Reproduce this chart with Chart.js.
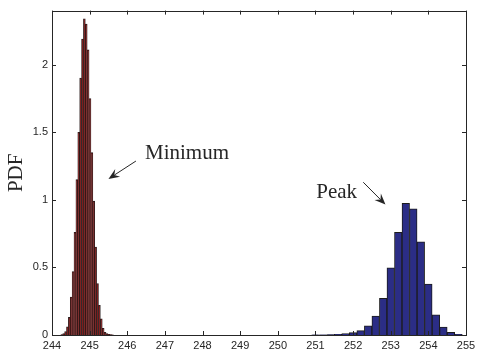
<!DOCTYPE html>
<html>
<head>
<meta charset="utf-8">
<script src="https://cdn.jsdelivr.net/npm/chart.js@4/dist/chart.umd.min.js"></script>
<style>
  html, body { margin: 0; padding: 0; background: #ffffff; }
  #wrap { width: 480px; height: 358px; }
</style>
</head>
<body>
<div id="wrap"><canvas id="pdfChart" width="480" height="358"></canvas></div>
<script>
// Histogram of the minimum value (bin width 0.05)
const minBinCenters = [244.26, 244.31, 244.36, 244.41, 244.46, 244.51, 244.56, 244.61, 244.66, 244.71,
                       244.76, 244.81, 244.86, 244.91, 244.96, 245.01, 245.06, 245.11, 245.16, 245.21,
                       245.26, 245.31, 245.36, 245.41, 245.46, 245.51, 245.56, 245.61];
const minDensity    = [0.004, 0.01, 0.025, 0.06, 0.13, 0.28, 0.47, 0.76, 1.15, 1.50,
                       1.90, 2.19, 2.34, 2.30, 2.11, 1.75, 1.35, 0.99, 0.65, 0.38,
                       0.22, 0.12, 0.05, 0.02, 0.01, 0.005, 0.003, 0.002];

// Histogram of the peak value (bin width 0.2)
const peakBinCenters = [251.0, 251.2, 251.4, 251.6, 251.8, 252.0, 252.2, 252.4, 252.6, 252.8,
                        253.0, 253.2, 253.4, 253.6, 253.8, 254.0, 254.2, 254.4, 254.6, 254.8];
const peakDensity    = [0.001, 0.002, 0.003, 0.005, 0.01, 0.017, 0.032, 0.068, 0.14, 0.271,
                        0.497, 0.759, 0.975, 0.933, 0.69, 0.376, 0.15, 0.058, 0.02, 0.005];

// Axis ranges and tick steps
const xRange = [244, 255];
const xStep = 1;
const yRange = [0, 2.4];
const yStep = 0.5;

// Text callouts with arrows, in data coordinates
const noteLabels = ['Minimum', 'Peak'];
const noteTextX  = [246.47, 251.02];
const noteTextY  = [1.30, 1.015];
const arrowFromX = [246.23, 252.27];
const arrowFromY = [1.287, 1.13];
const arrowToX   = [245.50, 252.86];
const arrowToY   = [1.155, 0.965];

const toPoints = (xs, ys) => xs.map((x, i) => ({ x: x, y: ys[i] }));

const TICK_FONT = { family: '"Liberation Sans", Arial, sans-serif', size: 11 };
const SERIF = '"Liberation Serif", "Times New Roman", serif';
const INK = '#262626';

// Box frame with inward tick marks on all four sides, plus callouts
const boxAndNotes = {
  id: 'boxAndNotes',
  afterDraw(chart) {
    const ctx = chart.ctx;
    const a = chart.chartArea;
    const xs = chart.scales.x;
    const ys = chart.scales.y;
    const tl = 4;
    ctx.save();
    ctx.strokeStyle = INK;
    ctx.lineWidth = 1;
    ctx.beginPath();
    xs.ticks.forEach(t => {
      const px = Math.round(xs.getPixelForValue(t.value)) + 0.5;
      ctx.moveTo(px, a.bottom); ctx.lineTo(px, a.bottom - tl);
      ctx.moveTo(px, a.top); ctx.lineTo(px, a.top + tl);
    });
    ys.ticks.forEach(t => {
      const py = Math.round(ys.getPixelForValue(t.value)) + 0.5;
      ctx.moveTo(a.left, py); ctx.lineTo(a.left + tl, py);
      ctx.moveTo(a.right, py); ctx.lineTo(a.right - tl, py);
    });
    ctx.stroke();
    ctx.strokeRect(Math.round(a.left) + 0.5, Math.round(a.top) + 0.5,
                   Math.round(a.right - a.left), Math.round(a.bottom - a.top));

    // callouts
    ctx.fillStyle = INK;
    ctx.font = '21px ' + SERIF;
    ctx.textAlign = 'left';
    ctx.textBaseline = 'alphabetic';
    noteLabels.forEach((label, i) => {
      ctx.fillText(label, xs.getPixelForValue(noteTextX[i]), ys.getPixelForValue(noteTextY[i]));
      const x0 = xs.getPixelForValue(arrowFromX[i]), y0 = ys.getPixelForValue(arrowFromY[i]);
      const x1 = xs.getPixelForValue(arrowToX[i]),   y1 = ys.getPixelForValue(arrowToY[i]);
      const ang = Math.atan2(y1 - y0, x1 - x0);
      const len = 11, half = 4.5, notch = 7;
      ctx.strokeStyle = INK;
      ctx.lineWidth = 1;
      ctx.beginPath();
      ctx.moveTo(x0, y0);
      ctx.lineTo(x1 - Math.cos(ang) * notch, y1 - Math.sin(ang) * notch);
      ctx.stroke();
      const bx = x1 - Math.cos(ang) * len, by = y1 - Math.sin(ang) * len;
      const nx = -Math.sin(ang), ny = Math.cos(ang);
      ctx.beginPath();
      ctx.moveTo(x1, y1);
      ctx.lineTo(bx + nx * half, by + ny * half);
      ctx.lineTo(x1 - Math.cos(ang) * notch, y1 - Math.sin(ang) * notch);
      ctx.lineTo(bx - nx * half, by - ny * half);
      ctx.closePath();
      ctx.fill();
    });
    ctx.restore();
  }
};

new Chart(document.getElementById('pdfChart'), {
  type: 'bar',
  data: {
    datasets: [
      {
        label: 'Minimum',
        data: toPoints(minBinCenters, minDensity),
        xAxisID: 'x',
        backgroundColor: '#7e1818',
        borderColor: 'rgba(28,16,16,0.95)',
        borderWidth: 0.8,
        borderSkipped: 'start',
        barPercentage: 1,
        categoryPercentage: 1,
        grouped: false
      },
      {
        label: 'Peak',
        data: toPoints(peakBinCenters, peakDensity),
        xAxisID: 'x2',
        backgroundColor: '#2b2d86',
        borderColor: '#1c1c1c',
        borderWidth: 1,
        borderSkipped: 'start',
        barPercentage: 1,
        categoryPercentage: 1,
        grouped: false
      }
    ]
  },
  options: {
    responsive: false,
    animation: false,
    layout: { padding: { top: 5, right: 14, left: 0, bottom: 0 } },
    plugins: {
      legend: { display: false },
      tooltip: { enabled: false }
    },
    scales: {
      x: {
        type: 'linear',
        position: 'bottom',
        min: xRange[0],
        max: xRange[1],
        offset: false,
        grid: { display: false, drawTicks: false },
        border: { display: false },
        ticks: { stepSize: xStep, padding: 4, color: INK, font: TICK_FONT, maxRotation: 0, autoSkip: false, includeBounds: false },
        afterFit(scale) { scale.height = 23; }
      },
      x2: {
        type: 'linear',
        display: false,
        min: xRange[0],
        max: xRange[1],
        offset: false
      },
      y: {
        min: yRange[0],
        max: yRange[1],
        grid: { display: false, drawTicks: false },
        border: { display: false },
        ticks: {
          stepSize: yStep, padding: 4, color: INK, font: TICK_FONT, includeBounds: false,
          callback: (v) => String(Math.round(v * 10) / 10)
        },
        title: {
          display: true,
          text: 'PDF',
          color: INK,
          font: { family: SERIF, size: 21 },
          padding: { top: 4, bottom: 0 }
        },
        afterFit(scale) { scale.width = 52; }
      }
    }
  },
  plugins: [boxAndNotes]
});
</script>
</body>
</html>
